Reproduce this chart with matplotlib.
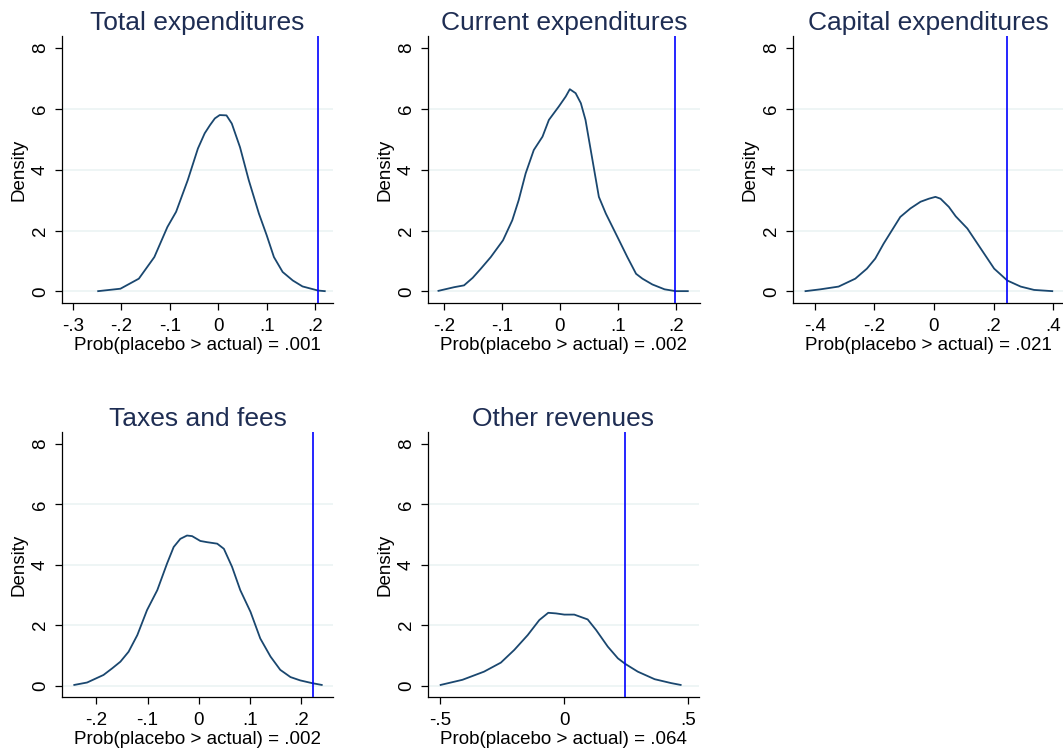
import numpy as np
import matplotlib
matplotlib.use("Agg")
import matplotlib.pyplot as plt

plt.rcParams['font.family'] = ['Liberation Sans', 'DejaVu Sans']

# panel titles and p-values
titles = ["Total expenditures", "Current expenditures", "Capital expenditures",
          "Taxes and fees", "Other revenues"]
pvals = [".001", ".002", ".021", ".002", ".064"]
actual = [0.207, 0.198, 0.245, 0.223, 0.245]

# placebo density curves
x_total = [-0.248, -0.202, -0.164, -0.132, -0.105, -0.087, -0.063, -0.042, -0.028, -0.017,
           -0.007, 0.003, 0.017, 0.028, 0.045, 0.063, 0.084, 0.100, 0.115, 0.133,
           0.154, 0.174, 0.206, 0.220]
y_total = [0.01, 0.09, 0.42, 1.13, 2.12, 2.62, 3.66, 4.70, 5.20, 5.47,
           5.69, 5.80, 5.79, 5.52, 4.74, 3.66, 2.56, 1.85, 1.13, 0.64,
           0.36, 0.165, 0.03, 0.01]

x_current = [-0.209, -0.182, -0.165, -0.150, -0.136, -0.119, -0.098, -0.082, -0.071, -0.059,
             -0.045, -0.030, -0.019, -0.002, 0.010, 0.017, 0.027, 0.036, 0.044, 0.056,
             0.067, 0.079, 0.099, 0.116, 0.131, 0.142, 0.159, 0.180, 0.199, 0.220]
y_current = [0.02, 0.14, 0.20, 0.45, 0.75, 1.13, 1.68, 2.34, 3.00, 3.88,
             4.65, 5.09, 5.64, 6.08, 6.41, 6.65, 6.52, 6.19, 5.64, 4.32,
             3.11, 2.56, 1.79, 1.13, 0.58, 0.42, 0.23, 0.07, 0.01, 0.01]

x_capital = [-0.431, -0.381, -0.320, -0.264, -0.225, -0.197, -0.169, -0.141, -0.113, -0.079,
             -0.045, -0.017, 0.005, 0.022, 0.050, 0.073, 0.112, 0.157, 0.202, 0.246,
             0.291, 0.336, 0.397]
y_capital = [0.01, 0.07, 0.16, 0.42, 0.75, 1.08, 1.57, 2.01, 2.45, 2.73,
             2.95, 3.05, 3.11, 3.05, 2.78, 2.47, 2.07, 1.41, 0.75, 0.36,
             0.16, 0.05, 0.01]

x_taxes = [-0.243, -0.218, -0.186, -0.169, -0.153, -0.137, -0.120, -0.101, -0.081, -0.062,
           -0.049, -0.036, -0.023, -0.013, 0.003, 0.016, 0.036, 0.049, 0.065, 0.081,
           0.101, 0.120, 0.140, 0.159, 0.179, 0.198, 0.221, 0.240]
y_taxes = [0.02, 0.10, 0.35, 0.57, 0.79, 1.12, 1.67, 2.50, 3.16, 4.04,
           4.59, 4.86, 4.97, 4.95, 4.79, 4.75, 4.70, 4.53, 3.93, 3.16,
           2.44, 1.56, 0.96, 0.52, 0.28, 0.17, 0.08, 0.02]

x_other = [-0.499, -0.411, -0.324, -0.256, -0.202, -0.148, -0.101, -0.065, -0.034, 0.000,
           0.040, 0.094, 0.128, 0.175, 0.216, 0.245, 0.296, 0.364, 0.431, 0.469]
y_other = [0.02, 0.19, 0.46, 0.76, 1.18, 1.67, 2.17, 2.41, 2.39, 2.35,
           2.35, 2.19, 1.84, 1.29, 0.90, 0.72, 0.46, 0.21, 0.08, 0.02]

curves = [(x_total, y_total), (x_current, y_current), (x_capital, y_capital),
          (x_taxes, y_taxes), (x_other, y_other)]

# x ticks and labels per panel
xticks = [[-0.3, -0.2, -0.1, 0, 0.1, 0.2],
          [-0.2, -0.1, 0, 0.1, 0.2],
          [-0.4, -0.2, 0, 0.2, 0.4],
          [-0.2, -0.1, 0, 0.1, 0.2],
          [-0.5, 0, 0.5]]
xticklabels = [["-.3", "-.2", "-.1", "0", ".1", ".2"],
               ["-.2", "-.1", "0", ".1", ".2"],
               ["-.4", "-.2", "0", ".2", ".4"],
               ["-.2", "-.1", "0", ".1", ".2"],
               ["-.5", "0", ".5"]]
xlims = [(-0.3227, 0.237), (-0.227, 0.241), (-0.473, 0.433), (-0.267, 0.262), (-0.55, 0.543)]
yticks = [0, 2, 4, 6, 8]

W, H = 1063, 756
# axes boxes in pixels: left, right, top, bottom
boxes = [(62, 333, 36, 303), (428, 700, 36, 303), (793, 1063, 36, 303),
         (62, 333, 432, 697), (428, 699, 432, 697)]

navy = '#1a476f'
title_col = '#1e2d53'
grid_col = '#eaf2f3'

fig = plt.figure(figsize=(W / 100, H / 100), dpi=100)

for i, (l, r, t, b) in enumerate(boxes):
    ax = fig.add_axes([l / W, 1 - b / H, (r - l) / W, (b - t) / H])
    for g in [0, 2, 4, 6]:
        ax.axhline(g, color=grid_col, lw=1.1, zorder=0)
    xs, ys = curves[i]
    ax.plot(xs, ys, color=navy, lw=1.3, zorder=2, solid_joinstyle='round')
    ax.axvline(actual[i], color='#0000ff', lw=1.2, zorder=3)
    ax.set_xlim(*xlims[i])
    ax.set_ylim(-0.38, 8.4)
    ax.set_xticks(xticks[i])
    ax.set_xticklabels(xticklabels[i])
    ax.set_yticks(yticks)
    ax.set_yticklabels([str(v) for v in yticks], rotation=90, va='center')
    ax.tick_params(labelsize=13.5, length=5, width=0.9, color='black')
    ax.tick_params(axis='y', pad=4.5)
    ax.tick_params(axis='x', pad=5.5)
    ax.spines['top'].set_visible(False)
    ax.spines['right'].set_visible(False)
    ax.spines['left'].set_linewidth(0.9)
    ax.spines['bottom'].set_linewidth(0.9)
    ax.set_ylabel("Density", fontsize=13.5, labelpad=3)
    ax.set_xlabel(f"Prob(placebo > actual) = {pvals[i]}", fontsize=13.5, labelpad=2)
    ax.set_title(titles[i], fontsize=19, color=title_col, pad=4)

fig.savefig("out.png", dpi=100)
